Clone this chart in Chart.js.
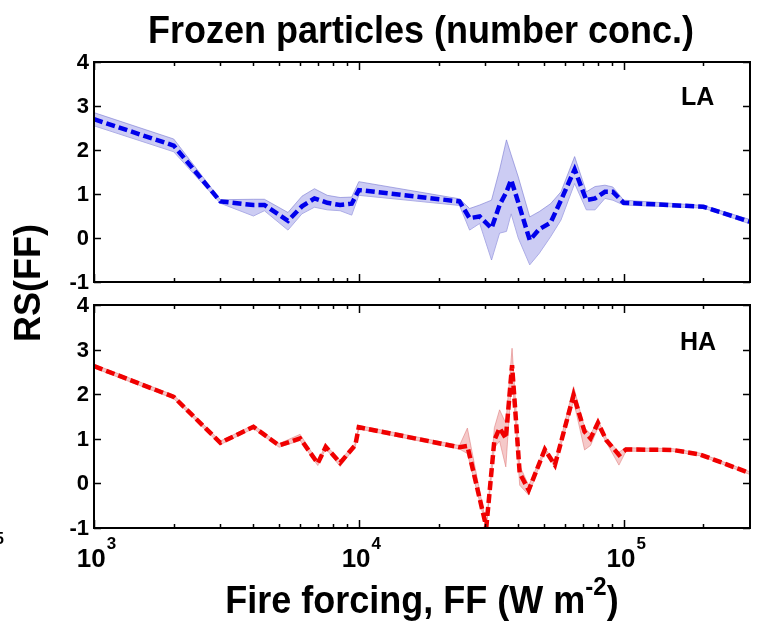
<!DOCTYPE html>
<html>
<head>
<meta charset="utf-8">
<script src="https://cdn.jsdelivr.net/npm/chart.js@4.4.1/dist/chart.umd.min.js"></script>
<style>
  body { margin: 0; background: #fff; width: 761px; height: 626px; position: relative; overflow: hidden;
         font-family: "Liberation Sans", Arial, sans-serif; font-weight: bold; color: #000; }
  canvas { position: absolute; left: 0; top: 0; }
  .txt { position: absolute; white-space: nowrap; line-height: 36px; font-size: 36px; }
  #title { left: 421px; top: 12px; transform: translateX(-50%) scaleY(1.06); }
  #ytitle { left: 28px; top: 283px; transform: translate(-50%, -50%) rotate(-90deg); }
  #xtitle { left: 422px; top: 582px; transform: translateX(-50%) scaleY(1.06); }
  #xtitle sup { font-size: 24px; vertical-align: baseline; position: relative; top: -17px; }
  .panel { position: absolute; font-size: 25px; line-height: 25px; }
  #stray { position: absolute; left: -5px; top: 531px; font-size: 16px; line-height: 16px; }
</style>
</head>
<body>
<canvas id="la" width="761" height="626"></canvas>
<canvas id="ha" width="761" height="626"></canvas>
<div class="txt" id="title">Frozen particles (number conc.)</div>
<div class="txt" id="ytitle">RS(FF)</div>
<div class="txt" id="xtitle">Fire forcing, FF (W m<sup>-2</sup>)</div>
<div class="panel" style="left:681px; top:84px;">LA</div>
<div class="panel" style="left:680px; top:329px;">HA</div>
<div id="stray">5</div>
<script>
// LA (low altitude) – blue
const laX     = [1000, 2000, 3000, 4000, 4400, 5400, 6100, 6800, 7600, 8500, 9400, 10000, 24000, 26200, 28600, 31700, 34000, 36100, 37600, 40000, 44200, 48000, 53000, 58000, 65300, 72300, 78000, 85000, 91000, 100000, 200000, 300000];
const laMean  = [2.70, 2.10, 0.83, 0.75, 0.75, 0.39, 0.72, 0.90, 0.80, 0.75, 0.78, 1.09, 0.83, 0.45, 0.49, 0.22, 0.75, 1.05, 1.32, 0.81, -0.05, 0.20, 0.35, 0.86, 1.56, 0.86, 0.90, 1.05, 1.05, 0.80, 0.71, 0.37];
const laUpper = [2.85, 2.25, 0.87, 0.88, 0.88, 0.58, 0.95, 1.12, 0.97, 0.92, 0.93, 1.28, 0.89, 0.67, 0.75, 0.86, 1.55, 2.23, 1.89, 1.39, 0.48, 0.60, 0.78, 1.05, 1.85, 1.05, 1.17, 1.20, 1.16, 0.86, 0.74, 0.42];
const laLower = [2.55, 1.96, 0.79, 0.50, 0.62, 0.18, 0.55, 0.70, 0.64, 0.62, 0.52, 0.97, 0.74, 0.18, 0.33, -0.50, 0.11, 0.15, 0.55, 0.00, -0.61, -0.35, 0.03, 0.41, 1.24, 0.64, 0.64, 0.90, 0.86, 0.75, 0.68, 0.32];

// HA (high altitude) – red
const haX     = [1000, 2000, 3000, 4000, 5000, 6000, 7000, 7500, 8500, 9700, 10000, 24000, 25700, 30300, 32500, 34000, 35900, 37900, 40500, 43800, 50400, 55000, 64700, 71200, 75000, 80000, 86000, 96000, 102000, 153000, 194000, 300000];
const haMean  = [2.63, 1.94, 0.91, 1.27, 0.85, 1.01, 0.45, 0.82, 0.46, 0.86, 1.26, 0.81, 0.84, -0.98, 0.97, 1.24, 1.01, 2.65, 0.23, -0.15, 0.76, 0.41, 1.98, 1.16, 1.01, 1.36, 0.97, 0.64, 0.76, 0.75, 0.65, 0.23];
const haUpper = [2.67, 1.98, 0.95, 1.31, 0.89, 1.10, 0.49, 0.86, 0.52, 0.90, 1.30, 0.85, 1.24, -0.93, 1.25, 1.65, 1.35, 3.03, 0.40, -0.05, 0.80, 0.45, 2.17, 1.25, 1.10, 1.42, 1.02, 0.70, 0.80, 0.78, 0.68, 0.26];
const haLower = [2.59, 1.90, 0.87, 1.23, 0.81, 0.96, 0.40, 0.78, 0.38, 0.82, 1.22, 0.77, 0.67, -1.00, 0.80, 0.95, 0.37, 2.45, -0.04, -0.26, 0.72, 0.37, 1.85, 0.75, 0.85, 1.25, 0.92, 0.41, 0.72, 0.72, 0.62, 0.20];

// axes
const xMin = 1000, xMax = 300000;
const yMin = -1, yMax = 4;
const yTicks = [4, 3, 2, 1, 0, -1];
const xMajorExp = [3, 4, 5];
const xMinor = [2000, 3000, 4000, 5000, 6000, 7000, 8000, 9000,
                20000, 30000, 40000, 50000, 60000, 70000, 80000, 90000, 200000];

const FONT = '"Liberation Sans", Arial, sans-serif';

const pts = (xs, ys) => xs.map((x, i) => ({ x: x, y: ys[i] }));

// MATLAB-like box with inward ticks, labels drawn from the scales
const boxTicks = {
  id: 'boxTicks',
  afterDatasetsDraw(chart, args, opts) {
    const { ctx, chartArea: a } = chart;
    const sx = chart.scales.x, sy = chart.scales.y;
    ctx.save();
    ctx.strokeStyle = '#000';
    ctx.lineWidth = 1.5;
    ctx.beginPath();
    yTicks.forEach(v => {
      const py = Math.round(sy.getPixelForValue(v)) + 0.5;
      ctx.moveTo(a.left, py); ctx.lineTo(a.left + 7, py);
      ctx.moveTo(a.right, py); ctx.lineTo(a.right - 7, py);
    });
    xMajorExp.forEach(e => {
      const px = Math.round(sx.getPixelForValue(Math.pow(10, e))) + 0.5;
      ctx.moveTo(px, a.bottom); ctx.lineTo(px, a.bottom - 8);
      ctx.moveTo(px, a.top); ctx.lineTo(px, a.top + 8);
    });
    xMinor.forEach(v => {
      const px = Math.round(sx.getPixelForValue(v)) + 0.5;
      ctx.moveTo(px, a.bottom); ctx.lineTo(px, a.bottom - 4);
      ctx.moveTo(px, a.top); ctx.lineTo(px, a.top + 4);
    });
    ctx.stroke();
    ctx.lineWidth = 2;
    ctx.strokeRect(a.left, a.top, a.right - a.left, a.bottom - a.top);

    ctx.fillStyle = '#000';
    ctx.font = 'bold 22px ' + FONT;
    ctx.textAlign = 'right';
    ctx.textBaseline = 'middle';
    yTicks.forEach(v => ctx.fillText(String(v), a.left - 5, sy.getPixelForValue(v) + 1));

    if (opts.xLabels) {
      ctx.textAlign = 'left';
      ctx.textBaseline = 'alphabetic';
      xMajorExp.forEach(e => {
        const px = sx.getPixelForValue(Math.pow(10, e));
        ctx.font = 'bold 26px ' + FONT;
        const w1 = ctx.measureText('10').width;
        ctx.font = 'bold 17px ' + FONT;
        const w2 = ctx.measureText(String(e)).width;
        const x0 = px - (w1 + w2) / 2 + 2;
        ctx.font = 'bold 26px ' + FONT;
        ctx.fillText('10', x0, a.bottom + 39);
        ctx.font = 'bold 17px ' + FONT;
        ctx.fillText(String(e), x0 + w1 + 1, a.bottom + 21);
      });
    }
    ctx.restore();
  }
};

function makePanel(id, xs, mean, upper, lower, lineColor, bandColor, edgeColor, padding, xLabels) {
  return new Chart(document.getElementById(id), {
    type: 'line',
    data: {
      datasets: [
        { data: pts(xs, upper), borderColor: edgeColor, borderWidth: 1, backgroundColor: bandColor, fill: '+1', pointRadius: 0, order: 2 },
        { data: pts(xs, lower), borderColor: edgeColor, borderWidth: 1, fill: false, pointRadius: 0, order: 2 },
        { data: pts(xs, mean), borderColor: lineColor, borderWidth: 4.5, borderDash: [9, 4], fill: false, pointRadius: 0, order: 0 }
      ]
    },
    options: {
      responsive: false,
      animation: false,
      layout: { padding: padding },
      plugins: { legend: { display: false }, tooltip: { enabled: false }, boxTicks: { xLabels: xLabels } },
      elements: { line: { tension: 0 } },
      scales: {
        x: { type: 'logarithmic', min: xMin, max: xMax, display: false },
        y: { type: 'linear', min: yMin, max: yMax, display: false }
      }
    },
    plugins: [boxTicks]
  });
}

makePanel('la', laX, laMean, laUpper, laLower, 'rgb(0,0,235)', 'rgba(170,170,235,0.6)', 'rgba(120,120,210,0.6)',
  { left: 94, right: 11, top: 62, bottom: 344 }, false);
makePanel('ha', haX, haMean, haUpper, haLower, 'rgb(240,0,0)', 'rgba(230,120,120,0.4)', 'rgba(220,110,110,0.5)',
  { left: 94, right: 11, top: 305, bottom: 98 }, true);
</script>
</body>
</html>
